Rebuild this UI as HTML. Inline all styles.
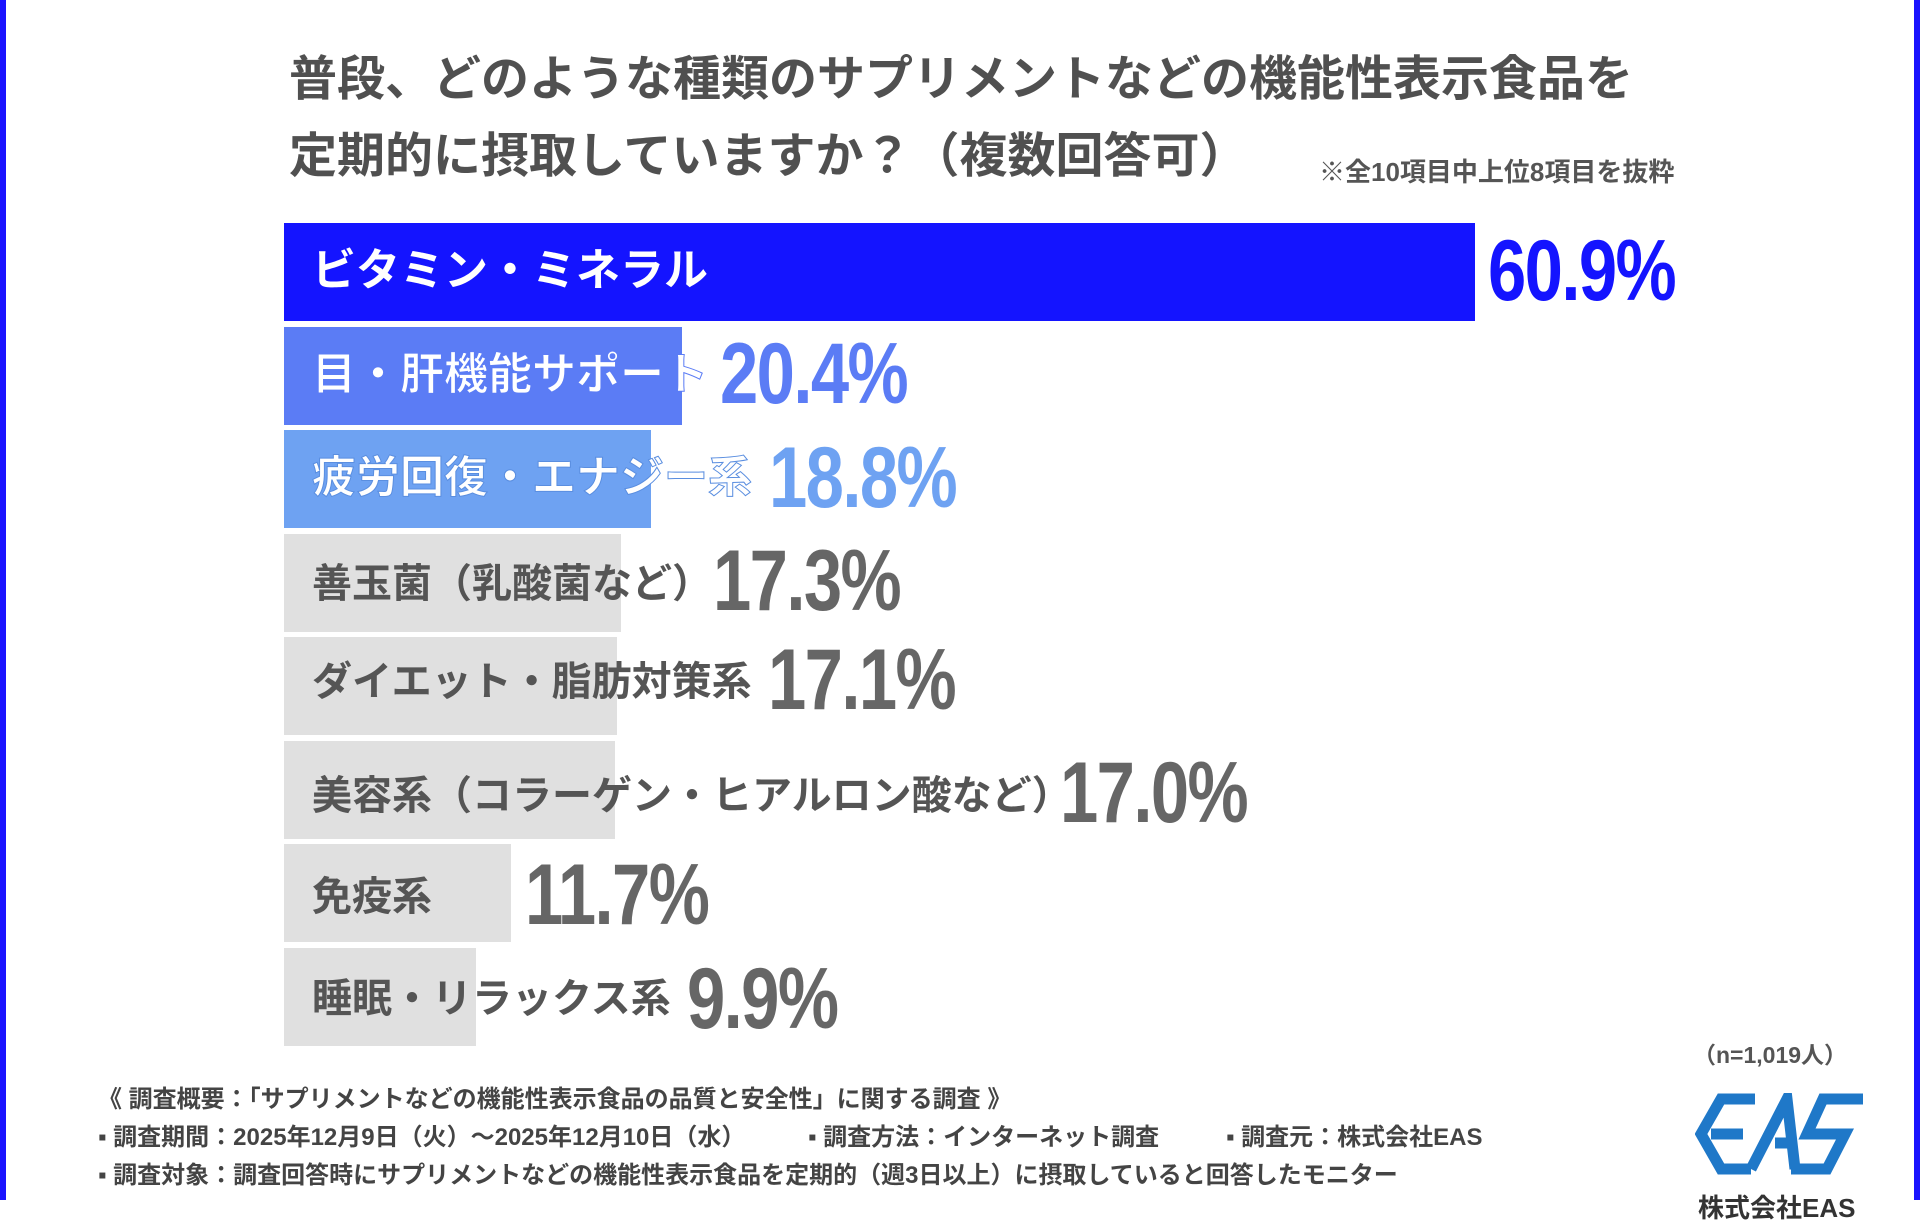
<!DOCTYPE html>
<html><head><meta charset="utf-8"><style>
body{margin:0;width:1920px;height:1200px;background:#fff;position:relative;overflow:hidden;font-family:"Liberation Sans","Noto Sans CJK JP",sans-serif;}
.bl{position:absolute;left:0;top:0;width:6px;height:1200px;background:#1a14ff}
.br{position:absolute;right:0;top:0;width:6px;height:1200px;background:#1a14ff}
.t{position:absolute;left:289px;font-size:48px;font-weight:bold;color:#505050;white-space:nowrap;line-height:1}
.bar{position:absolute;left:284px;height:98px}
.lab{position:absolute;left:312px;font-size:40px;font-weight:bold;white-space:nowrap;line-height:1}
.lb{font-size:44px}
.val{position:absolute;font-family:"Liberation Sans",sans-serif;font-weight:bold;font-size:86px;line-height:1;white-space:nowrap;letter-spacing:-2px;transform:scaleX(0.8);transform-origin:0 0}
.f{position:absolute;left:98px;font-size:24px;font-weight:bold;color:#444;white-space:nowrap;line-height:1}
</style></head><body>
<div class="bl"></div><div class="br"></div>
<div class="t" style="top:56px">普段、どのような種類のサプリメントなどの機能性表示食品を</div>
<div class="t" style="top:133px">定期的に摂取していますか？（複数回答可）</div>
<div style="position:absolute;left:1319px;top:152px;font-size:26px;font-weight:bold;color:#555;white-space:nowrap">※全10項目中上位8項目を抜粋</div>

<div class="bar" style="top:223px;width:1191px;background:#1414ff"></div>
<div class="lab lb" style="top:249px;color:#fff">ビタミン・ミネラル</div>
<div class="val" style="left:1488px;top:228px;color:#1414ff">60.9%</div>

<div class="bar" style="top:327px;width:398px;background:#5b7cf5"></div>
<div class="lab lb" style="top:353px;color:#fff;-webkit-text-stroke:1px #5b7cf5">目・肝機能サポート</div>
<div class="val" style="left:720px;top:331px;color:#5b7cf5">20.4%</div>

<div class="bar" style="top:430px;width:367px;background:#6ea2f2"></div>
<div class="lab lb" style="top:456px;color:#fff;-webkit-text-stroke:1px #5a8ee0">疲労回復・エナジー系</div>
<div class="val" style="left:769px;top:435px;color:#6ea2f2">18.8%</div>

<div class="bar" style="top:534px;width:337px;background:#e0e0e0"></div>
<div class="lab" style="top:564px;color:#555">善玉菌（乳酸菌など）</div>
<div class="val" style="left:713px;top:538px;color:#666">17.3%</div>

<div class="bar" style="top:637px;width:333px;background:#e0e0e0"></div>
<div class="lab" style="top:662px;color:#555">ダイエット・脂肪対策系</div>
<div class="val" style="left:768px;top:637px;color:#666">17.1%</div>

<div class="bar" style="top:741px;width:331px;background:#e0e0e0"></div>
<div class="lab" style="top:776px;color:#555">美容系（コラーゲン・ヒアルロン酸など）</div>
<div class="val" style="left:1060px;top:750px;color:#666">17.0%</div>

<div class="bar" style="top:844px;width:227px;background:#e0e0e0"></div>
<div class="lab" style="top:877px;color:#555">免疫系</div>
<div class="val" style="left:525px;top:852px;color:#666">11.7%</div>

<div class="bar" style="top:948px;width:192px;background:#e0e0e0"></div>
<div class="lab" style="top:979px;color:#555">睡眠・リラックス系</div>
<div class="val" style="left:687px;top:956px;color:#666">9.9%</div>

<div style="position:absolute;left:1693px;top:1036px;font-size:23px;font-weight:bold;color:#555;white-space:nowrap">（n=1,019人）</div>
<div class="f" style="top:1088px">《 調査概要：「サプリメントなどの機能性表示食品の品質と安全性」に関する調査 》</div>
<div class="f" style="top:1126px">▪ 調査期間：2025年12月9日（火）～2025年12月10日（水）</div>
<div class="f" style="left:808px;top:1126px">▪ 調査方法：インターネット調査</div>
<div class="f" style="left:1226px;top:1126px">▪ 調査元：株式会社EAS</div>
<div class="f" style="top:1164px">▪ 調査対象：調査回答時にサプリメントなどの機能性表示食品を定期的（週3日以上）に摂取していると回答したモニター</div>
<svg style="position:absolute;left:1695px;top:1093px" width="175" height="82" viewBox="0 0 175 82">
<g fill="none" stroke="#1f78c8" stroke-width="11" stroke-linejoin="miter">
<polyline points="60,6 26,6 6,41 26,76 56,76"/>
<line x1="16" y1="41" x2="48" y2="41"/>
<polyline points="56,76 92,6 100,76"/>
<line x1="80" y1="50" x2="98" y2="50"/>
<polyline points="168,6 128,6 112,41 150,41 132,76 96,76"/>
</g></svg>
<div style="position:absolute;left:1698px;top:1188px;font-size:26px;font-weight:bold;color:#333;white-space:nowrap">株式会社EAS</div>
</body></html>
